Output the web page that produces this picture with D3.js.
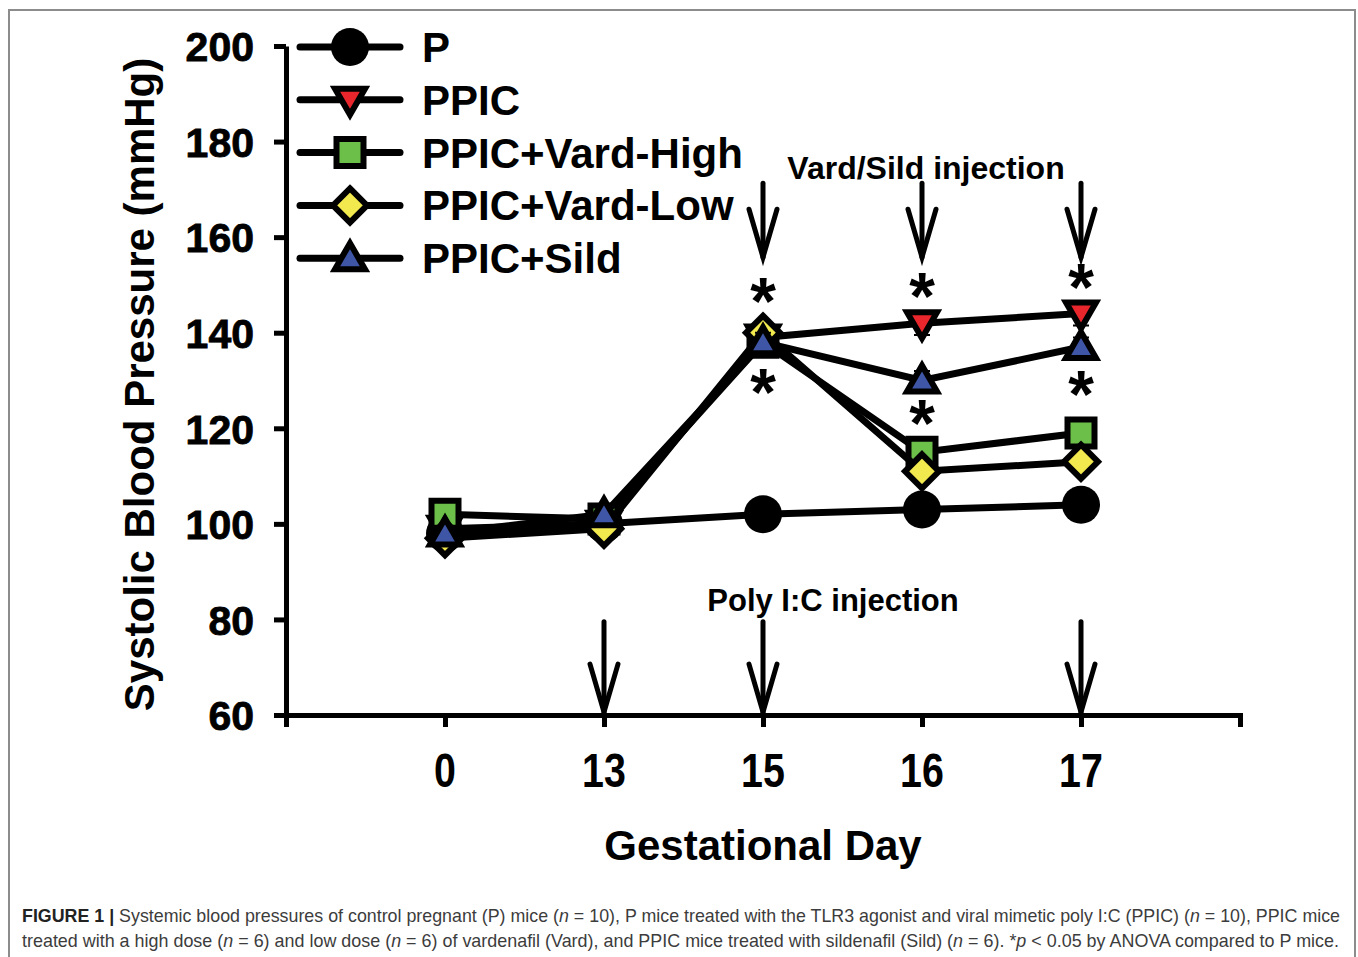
<!DOCTYPE html>
<html>
<head>
<meta charset="utf-8">
<script src="https://cdn.jsdelivr.net/npm/d3@7"></script>
<style>
  body { margin: 0; background: #fff; }
  svg { display: block; font-family: "Liberation Sans", Arial, sans-serif; }
</style>
</head>
<body>
<div id="chart"></div>
<script>
const days = ['0', '13', '15', '16', '17'];
const seriesNames = ['P', 'PPIC', 'PPIC+Vard-High', 'PPIC+Vard-Low', 'PPIC+Sild'];
const pValues = [98, 100, 102, 103, 104];
const ppicValues = [99, 100, 139, 142, 144];
const vardHighValues = [102, 101, 138, 115, 119];
const vardLowValues = [97, 99, 140, 111, 113];
const sildValues = [98, 102, 138, 130, 137];
const pErr = [1, 1, 2.5, 1.5, 2.5];
const ppicErr = [1, 1, 2, 2.5, 2.5];
const vardHighErr = [1, 1, 2, 2, 2];
const vardLowErr = [1, 1, 2, 2, 2];
const sildErr = [1, 1, 2, 2, 2];
const yTicks = [60, 80, 100, 120, 140, 160, 180, 200];
// asterisks: day and value where the * sits
const starDays = ['15', '15', '16', '16', '17', '17'];
const starValues = [148.5, 129.5, 149.5, 123, 151.5, 129];
const polyDays = ['13', '15', '17'];
const vardDays = ['15', '16', '17'];

const w = 1358;
const h = 957;
const margin = { top: 46, left: 286, right: 118, bottom: 242 };

const fills = ['#000', '#e8262b', '#6cc04a', '#f2e94e', '#3f56a6'];
const shapes = ['circle', 'down', 'square', 'diamond', 'up'];
const seriesValues = [pValues, ppicValues, vardHighValues, vardLowValues, sildValues];
const seriesErr = [pErr, ppicErr, vardHighErr, vardLowErr, sildErr];

const svg = d3.select('#chart').append('svg').attr('width', w).attr('height', h);

// figure frame
svg.append('rect')
  .attr('x', 9).attr('y', 10).attr('width', 1346).attr('height', 960)
  .attr('fill', 'none').attr('stroke', '#8c8c8c').attr('stroke-width', 2);

const x = d3.scalePoint().domain(days).range([margin.left, w - margin.right]).padding(1);
const y = d3.scaleLinear().domain([60, 200]).range([h - margin.bottom, margin.top]);

// y axis
const yAxis = svg.append('g')
  .attr('transform', `translate(${margin.left},0)`)
  .call(d3.axisLeft(y).tickValues(yTicks).tickSize(12).tickPadding(20).tickSizeOuter(0));
yAxis.select('.domain').attr('stroke-width', 5).attr('stroke', '#000');
yAxis.selectAll('.tick line').attr('stroke-width', 5).attr('stroke', '#000');
yAxis.selectAll('.tick text')
  .attr('font-size', 41).attr('font-weight', 'bold').attr('fill', '#000')
  .attr('stroke', '#000').attr('stroke-width', 0.8)
  .attr('dy', '0.36em');

// x axis
const xAxis = svg.append('g')
  .attr('transform', `translate(0,${y(60)})`)
  .call(d3.axisBottom(x).tickSize(12).tickSizeOuter(12).tickFormat(''));
xAxis.select('.domain').attr('stroke-width', 5).attr('stroke', '#000');
xAxis.selectAll('.tick line').attr('stroke-width', 5).attr('stroke', '#000');
svg.selectAll('.xlab')
  .data(days)
  .enter()
  .append('text')
  .attr('class', 'xlab')
  .attr('transform', d => `translate(${x(d)},${y(60) + 72}) scale(0.82,1)`)
  .attr('text-anchor', 'middle')
  .attr('font-size', 48)
  .attr('font-weight', 'bold')
  .attr('fill', '#000')
  .text(d => d);

// axis titles
svg.append('text')
  .attr('transform', `translate(154,${(y(60) + y(200)) / 2 + 4}) rotate(-90)`)
  .attr('text-anchor', 'middle')
  .attr('font-size', 42)
  .attr('font-weight', 'bold')
  .text('Systolic Blood Pressure (mmHg)');

svg.append('text')
  .attr('x', x('15'))
  .attr('y', 860)
  .attr('text-anchor', 'middle')
  .attr('font-size', 42)
  .attr('font-weight', 'bold')
  .text('Gestational Day');

// arrows
const arrow = (g, xp, y0, y1) => {
  g.append('line').attr('x1', xp).attr('x2', xp).attr('y1', y0).attr('y2', y1);
  g.append('path').attr('d', `M${xp - 14},${y1 - 48}L${xp},${y1}L${xp + 14},${y1 - 48}`);
};
const arrows = svg.append('g')
  .attr('stroke', '#000').attr('stroke-width', 5).attr('fill', 'none')
  .attr('stroke-linecap', 'round').attr('stroke-linejoin', 'miter');
polyDays.forEach(d => arrow(arrows, x(d), y(79.5), y(60.6)));
vardDays.forEach(d => arrow(arrows, x(d), y(171.3), y(155.8)));

svg.append('text')
  .attr('x', 833).attr('y', 611)
  .attr('text-anchor', 'middle')
  .attr('font-size', 31).attr('font-weight', 'bold')
  .text('Poly I:C injection');
svg.append('text')
  .attr('x', 926).attr('y', 179)
  .attr('text-anchor', 'middle')
  .attr('font-size', 32).attr('font-weight', 'bold')
  .text('Vard/Sild injection');

// marker drawing
const drawMarker = (g, shape, fill) => {
  if (shape === 'circle') {
    g.append('circle').attr('r', 19).attr('fill', '#000');
    return;
  }
  let d;
  if (shape === 'square') d = 'M-13.5,-13.5H13.5V13.5H-13.5Z';
  if (shape === 'diamond') d = 'M0,-17L17,0L0,17L-17,0Z';
  if (shape === 'up') d = 'M0,-15L15,11L-15,11Z';
  if (shape === 'down') d = 'M0,15L15,-11L-15,-11Z';
  g.append('path').attr('d', d).attr('fill', fill)
    .attr('stroke', '#000').attr('stroke-width', 6).attr('stroke-linejoin', 'miter');
};

const line = d3.line().x((d, i) => x(days[i])).y(d => y(d));

const plot = svg.append('g');
seriesValues.forEach((vals, s) => {
  const g = plot.append('g');
  // error bars
  vals.forEach((v, i) => {
    const e = seriesErr[s][i];
    g.append('path')
      .attr('d', `M${x(days[i])},${y(v - e)}V${y(v + e)}M${x(days[i]) - 8},${y(v + e)}H${x(days[i]) + 8}M${x(days[i]) - 8},${y(v - e)}H${x(days[i]) + 8}`)
      .attr('stroke', '#000').attr('stroke-width', 2).attr('fill', 'none');
  });
  g.append('path')
    .datum(vals)
    .attr('d', line)
    .attr('fill', 'none')
    .attr('stroke', '#000')
    .attr('stroke-width', 7);
  vals.forEach((v, i) => {
    const m = g.append('g').attr('transform', `translate(${x(days[i])},${y(v)})`);
    drawMarker(m, shapes[s], fills[s]);
  });
});

// asterisks
svg.selectAll('.star')
  .data(starDays.map((d, i) => ({ day: d, value: starValues[i] })))
  .enter()
  .append('text')
  .attr('class', 'star')
  .attr('x', d => x(d.day))
  .attr('y', d => y(d.value) + 32)
  .attr('text-anchor', 'middle')
  .attr('font-size', 66)
  .attr('font-weight', 'bold')
  .text('*');

// legend
seriesNames.forEach((name, i) => {
  const ly = 47 + i * 52.8;
  const row = svg.append('g');
  row.append('line')
    .attr('x1', 300).attr('x2', 400).attr('y1', ly).attr('y2', ly)
    .attr('stroke', '#000').attr('stroke-width', 7).attr('stroke-linecap', 'round');
  drawMarker(row.append('g').attr('transform', `translate(350,${ly})`), shapes[i], fills[i]);
  row.append('text')
    .attr('x', 422).attr('y', ly + 15)
    .attr('font-size', 42).attr('font-weight', 'bold')
    .text(name);
});

// caption, squeezed horizontally to the reference width
const caption = svg.append('g').attr('font-size', 18).attr('fill', '#3c3c3c');
const capLine = (yp, width, parts) => {
  const g = caption.append('g');
  const t = g.append('text').attr('x', 0).attr('y', 0);
  parts.forEach(p => {
    const ts = t.append('tspan').text(p[0]);
    if (p[1] === 'b') ts.attr('font-weight', 'bold').attr('fill', '#222');
    if (p[1] === 'i') ts.attr('font-style', 'italic');
  });
  const natural = t.node().getComputedTextLength();
  g.attr('transform', `translate(22,${yp}) scale(${width / natural},1)`);
};
capLine(922, 1319, [
  ['FIGURE 1 |', 'b'],
  [' Systemic blood pressures of control pregnant (P) mice ('],
  ['n', 'i'],
  [' = 10), P mice treated with the TLR3 agonist and viral mimetic poly I:C (PPIC) ('],
  ['n', 'i'],
  [' = 10), PPIC mice']
]);
capLine(947, 1318, [
  ['treated with a high dose ('],
  ['n', 'i'],
  [' = 6) and low dose ('],
  ['n', 'i'],
  [' = 6) of vardenafil (Vard), and PPIC mice treated with sildenafil (Sild) ('],
  ['n', 'i'],
  [' = 6). *'],
  ['p', 'i'],
  [' < 0.05 by ANOVA compared to P mice.']
]);
</script>
</body>
</html>
